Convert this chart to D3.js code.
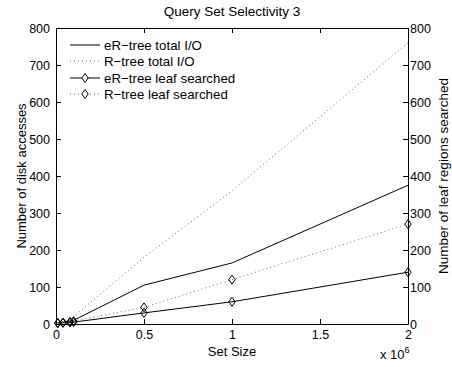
<!DOCTYPE html>
<html>
<head>
<meta charset="utf-8">
<script src="https://cdn.jsdelivr.net/npm/d3@7"></script>
<style>
  body { margin: 0; background: #fff; }
  text { font-family: "Liberation Sans", Arial, sans-serif; fill: #000; }
</style>
</head>
<body>
<svg></svg>
<script>
//Dimensions
const width = 452, height = 367;
const margin = {top: 28, right: 44, bottom: 43, left: 56};

//Data
const setSizes = [10000, 40000, 80000, 100000, 500000, 1000000, 2000000];
const erTotalIO = [3, 5, 8, 10, 105, 165, 375];
const rTotalIO = [4, 8, 14, 20, 180, 360, 760];
const erLeaf = [2, 3, 4, 5, 30, 60, 140];
const rLeaf = [3, 4, 6, 8, 45, 120, 270];
const xTicks = [0, 0.5e6, 1e6, 1.5e6, 2e6];
const yTicks = [0, 100, 200, 300, 400, 500, 600, 700, 800];
const legendNames = ["eR\u2212tree total I/O", "R\u2212tree total I/O", "eR\u2212tree leaf searched", "R\u2212tree leaf searched"];

const svg = d3.select("svg").attr("width", width).attr("height", height);

const x = d3.scaleLinear().domain([0, 2e6]).range([margin.left, width - margin.right]);
const yL = d3.scaleLinear().domain([0, 800]).range([height - margin.bottom, margin.top]);
const yR = d3.scaleLinear().domain([0, 800]).range([height - margin.bottom, margin.top]);

//Axes (ticks pointing inward, like matlab)
const tick = 5;
svg.append("g").attr("transform", `translate(0,${height - margin.bottom})`)
  .call(d3.axisBottom(x).tickValues(xTicks).tickSizeInner(-tick).tickSizeOuter(0).tickPadding(6)
    .tickFormat(d => d === 0 ? "0" : d3.format("")(d / 1e6)));
svg.append("g").attr("transform", `translate(0,${margin.top})`)
  .call(d3.axisTop(x).tickValues(xTicks).tickSizeInner(-tick).tickSizeOuter(0).tickFormat(""));
svg.append("g").attr("transform", `translate(${margin.left},0)`)
  .call(d3.axisLeft(yL).tickValues(yTicks).tickSizeInner(-tick).tickSizeOuter(0).tickPadding(6));
svg.append("g").attr("transform", `translate(${width - margin.right},0)`)
  .call(d3.axisRight(yR).tickValues(yTicks).tickSizeInner(-tick).tickSizeOuter(0).tickPadding(2));

svg.selectAll(".tick text").style("font-size", "12.5px").style("font-family", "Liberation Sans, Arial, sans-serif");
svg.selectAll(".domain, .tick line").attr("stroke", "#000");

//Lines
const lineL = d3.line().x((d, i) => x(setSizes[i])).y(d => yL(d));
const lineR = d3.line().x((d, i) => x(setSizes[i])).y(d => yR(d));
const dots = "1,3";

svg.append("path").attr("d", lineL(erTotalIO)).attr("fill", "none").attr("stroke", "#000");
svg.append("path").attr("d", lineL(rTotalIO)).attr("fill", "none").attr("stroke", "#666").attr("stroke-dasharray", dots);
svg.append("path").attr("d", lineR(erLeaf)).attr("fill", "none").attr("stroke", "#000");
svg.append("path").attr("d", lineR(rLeaf)).attr("fill", "none").attr("stroke", "#666").attr("stroke-dasharray", dots);

function diamond(cx, cy) {
  return `M${cx},${cy - 4.5}L${cx + 3.2},${cy}L${cx},${cy + 4.5}L${cx - 3.2},${cy}Z`;
}
[erLeaf, rLeaf].forEach(series => {
  svg.append("g").selectAll("path").data(series).join("path")
    .attr("d", (d, i) => diamond(x(setSizes[i]), yR(d)))
    .attr("fill", "none").attr("stroke", "#000").attr("stroke-width", 1);
});

//Legend
const legend = svg.append("g");
const legY = [45, 61, 78, 94];
legendNames.forEach((name, i) => {
  const ly = legY[i];
  const l = legend.append("line").attr("x1", 70).attr("x2", 100).attr("y1", ly).attr("y2", ly)
    .attr("stroke", i % 2 ? "#666" : "#000");
  if (i % 2) l.attr("stroke-dasharray", dots);
  if (i >= 2) legend.append("path").attr("d", diamond(85, ly)).attr("fill", "#fff").attr("stroke", "#000");
  legend.append("text").attr("x", 104).attr("y", ly).attr("dy", "0.35em")
    .style("font-size", "13.3px").text(name);
});

//Titles
const midX = (margin.left + width - margin.right) / 2;
const midY = (margin.top + height - margin.bottom) / 2;
svg.append("text").attr("x", midX).attr("y", 16)
  .attr("text-anchor", "middle").style("font-size", "13.5px").text("Query Set Selectivity 3");
svg.append("text").attr("x", midX).attr("y", 356)
  .attr("text-anchor", "middle").style("font-size", "13px").text("Set Size");
svg.append("text").attr("transform", `translate(26,${midY}) rotate(-90)`)
  .attr("text-anchor", "middle").style("font-size", "13px").text("Number of disk accesses");
svg.append("text").attr("transform", `translate(448,${midY}) rotate(-90)`)
  .attr("text-anchor", "middle").style("font-size", "13.5px").text("Number of leaf regions searched");

const exp = svg.append("text").attr("x", 380).attr("y", 359).style("font-size", "13px");
exp.append("tspan").text("x 10");
exp.append("tspan").attr("dy", -6).style("font-size", "9px").text("6");
</script>
</body>
</html>
